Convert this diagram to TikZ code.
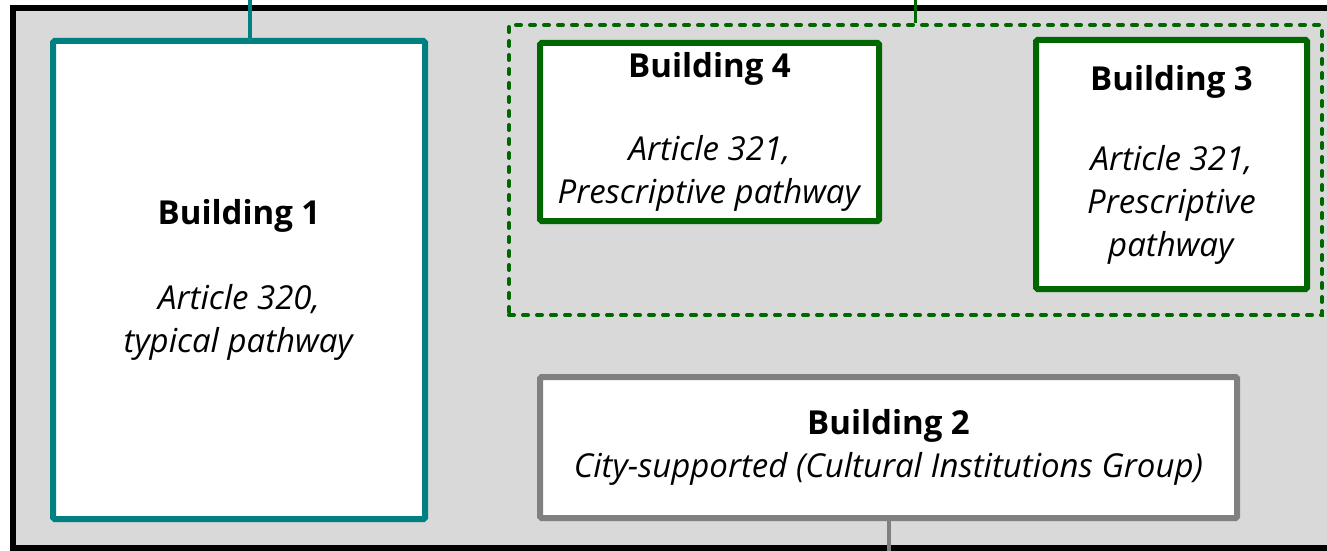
\documentclass[tikz,border=0pt]{standalone}
\usepackage{fontspec}
\setmainfont{Open Sans}
\definecolor{bggray}{HTML}{D9D9D9}
\definecolor{tealline}{HTML}{008080}
\definecolor{greenline}{HTML}{006600}
\definecolor{grayline}{HTML}{808080}
\begin{document}
\begin{tikzpicture}[x=1pt,y=-1pt,
	bldg/.style={draw, fill=white, line width=6pt, rounded corners=1.5pt, align=center,
		inner sep=0pt, font=\fontsize{33}{43}\selectfont},
	grouping/.style={draw=greenline, line width=4pt, dash pattern=on 5pt off 9pt, line cap=round, inner sep=0pt},
	link/.style={line width=4pt}]
	
	\useasboundingbox (0,0) rectangle (1327,551);
	\filldraw [fill=bggray, draw=black, line width=6pt] (13,8) rectangle (1345,548);
	
	% group of the two Article 321 buildings
	\node [grouping, minimum width=813pt, minimum height=290pt] (grp) at (915.5,170) {};
	
	\node [bldg, draw=tealline, minimum width=372pt, minimum height=478pt] (b1) at (239,280)
		{\textbf{Building 1}\\[42pt] \textit{Article 320,}\\ \textit{typical pathway}};
	\node [bldg, draw=greenline, minimum width=339pt, minimum height=178pt] (b4) at (709.5,132)
		{\textbf{Building 4}\\[40pt] \textit{Article 321,}\\ \textit{Prescriptive pathway}};
	\node [bldg, draw=greenline, minimum width=271pt, minimum height=249pt] (b3) at (1171.5,164.5)
		{\textbf{Building 3}\\[37pt] \textit{Article 321,}\\ \textit{Prescriptive}\\ \textit{pathway}};
	\node [bldg, draw=grayline, minimum width=697pt, minimum height=141pt] (b2) at (888.5,447.5)
		{\textbf{Building 2}\\ \textit{City-supported (Cultural Institutions Group)}};
	
	% connectors leaving the picture
	\coordinate (t1) at (250,0);
	\coordinate (t2) at (915.5,0);
	\coordinate (t3) at (888.5,551);
	\draw [link, draw=tealline] (t1) -- (t1 |- b1.north);
	\draw [link, draw=greenline, line width=3pt] (t2) -- (grp.north);
	\draw [link, draw=grayline] (b2.south) -- (t3);
\end{tikzpicture}
\end{document}
